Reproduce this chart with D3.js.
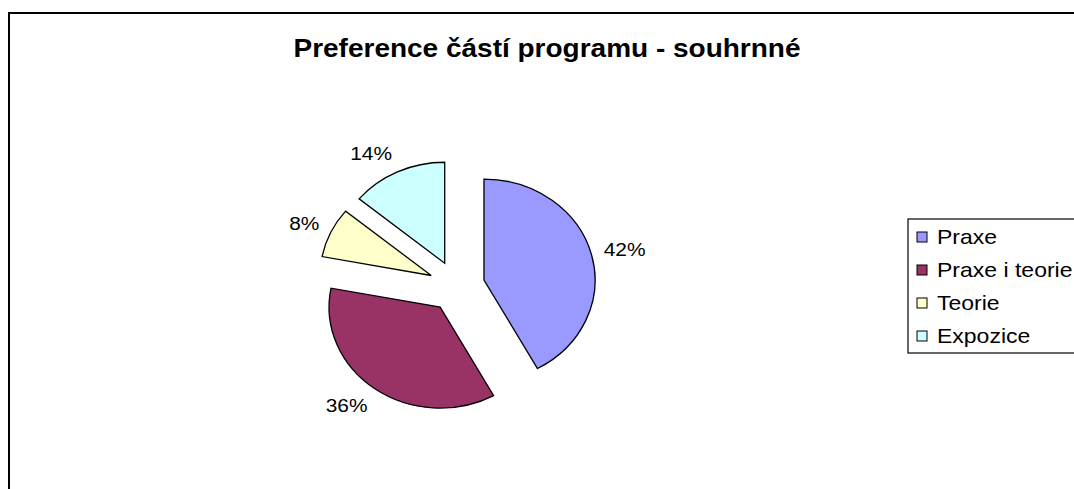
<!DOCTYPE html>
<html>
<head>
<meta charset="utf-8">
<script src="https://cdn.jsdelivr.net/npm/d3@7"></script>
<style>
  body { margin: 0; background: #fff; }
  text { font-family: "Liberation Sans", Arial, sans-serif; fill: #000; }
</style>
</head>
<body>
<div id="chart"></div>
<script>
// data
var categories = ["Praxe", "Praxe i teorie", "Teorie", "Expozice"];
var shares = [42, 36, 8, 14];
var colors = ["#9999FF", "#993366", "#FFFFCC", "#CCFFFF"];
var title = "Preference částí programu - souhrnné";

var width = 1074, height = 489;
var cx = 456.7, cy = 286.4;   // pie centre
var sx = 1.1;                 // the picture is a bit wider than tall
var radius = 101, explode = 25.6, labelR = 138;

var svg = d3.select("#chart").append("svg")
    .attr("width", width)
    .attr("height", height);

function place(x, y, s) {
    return "translate(" + x + "," + y + ") scale(" + s + ",1)";
}

// chart area border (runs off the right and bottom edge)
svg.append("rect")
    .attr("x", 9).attr("y", 13)
    .attr("width", 1090).attr("height", 500)
    .attr("fill", "#fff")
    .attr("stroke", "#000")
    .attr("stroke-width", 2);

svg.append("text")
    .attr("transform", place(547, 57, 1.12))
    .attr("text-anchor", "middle")
    .attr("font-size", "25px")
    .attr("font-weight", "bold")
    .text(title);

var pie = d3.pie().sort(null).value(function(d) { return d; });
var arcs = pie(shares);
var arc = d3.arc().innerRadius(0).outerRadius(radius);

function mid(d) { return (d.startAngle + d.endAngle) / 2; }

var g = svg.append("g")
    .attr("transform", "translate(" + cx + "," + cy + ") scale(" + sx + ",1)");

g.selectAll("path")
    .data(arcs)
    .enter().append("path")
    .attr("d", arc)
    .attr("transform", function(d) {
        var a = mid(d);
        return "translate(" + (Math.sin(a) * explode) + "," + (-Math.cos(a) * explode) + ")";
    })
    .attr("fill", function(d, i) { return colors[i]; })
    .attr("stroke", "#000")
    .attr("stroke-width", 1.3)
    .attr("vector-effect", "non-scaling-stroke");

// percentage labels: box sits just outside the anchor point on the mid angle
var fs = 19;
svg.selectAll(".lbl")
    .data(arcs)
    .enter().append("text")
    .attr("class", "lbl")
    .attr("font-size", fs + "px")
    .attr("text-anchor", "middle")
    .text(function(d) { return d.data + "%"; })
    .each(function(d) {
        var a = mid(d);
        var w = this.getComputedTextLength();
        var lx = Math.sin(a) * labelR + (Math.sin(a) < 0 ? -1 : 1) * w / 2;
        var ly = -Math.cos(a) * (labelR + fs / 2);
        d3.select(this)
            .attr("transform", place(cx + lx * sx, cy + ly + fs * 0.35, sx));
    });

// legend
var leg = svg.append("g");
leg.append("rect")
    .attr("x", 908).attr("y", 219)
    .attr("width", 200).attr("height", 134)
    .attr("fill", "#fff")
    .attr("stroke", "#000")
    .attr("stroke-width", 1.2);

var item = leg.selectAll(".item")
    .data(categories)
    .enter().append("g")
    .attr("class", "item")
    .attr("transform", function(d, i) { return "translate(917," + (237 + i * 33) + ")"; });

item.append("rect")
    .attr("x", 0).attr("y", -5)
    .attr("width", 10).attr("height", 10)
    .attr("fill", function(d, i) { return colors[i]; })
    .attr("stroke", "#000")
    .attr("stroke-width", 1);

item.append("text")
    .attr("transform", place(20, 7, 1.15))
    .attr("font-size", "20px")
    .text(function(d) { return d; });
</script>
</body>
</html>
